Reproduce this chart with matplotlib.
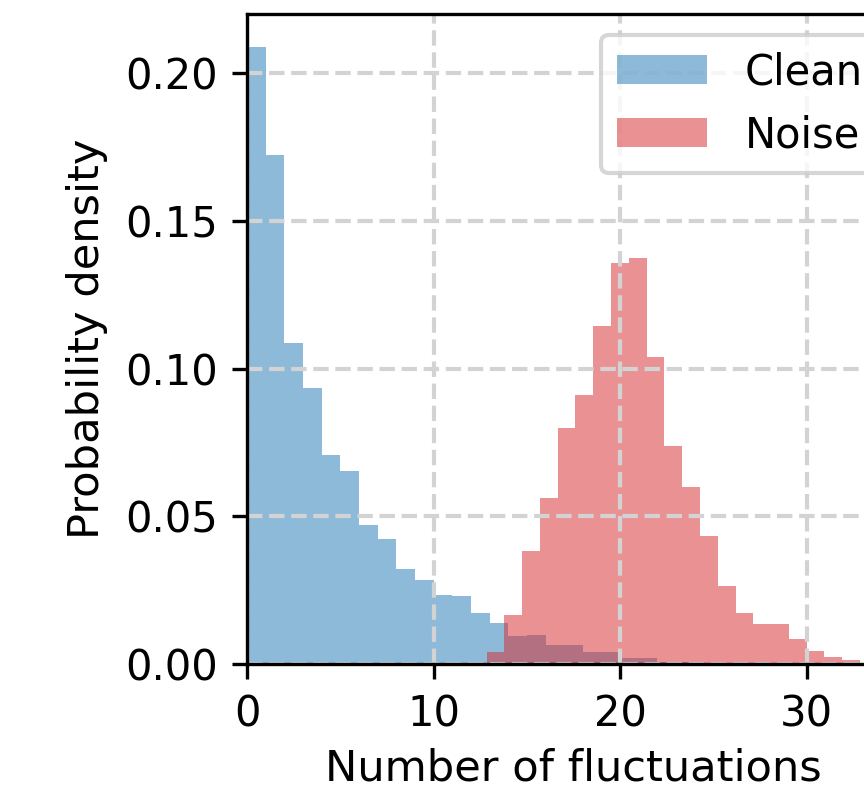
import matplotlib
matplotlib.use("Agg")
import matplotlib.pyplot as plt
import numpy as np

############################################################### histogram data

# clean signal: unit bins starting at 0
clean_lo = 0.0
clean_width = 1.0
clean_density = [0.2087, 0.1722, 0.1088, 0.0934, 0.0708, 0.0653, 0.0471, 0.0423,
                 0.0321, 0.0285, 0.0234, 0.0229, 0.0171, 0.0139, 0.0095, 0.0098,
                 0.0064, 0.0064, 0.0042, 0.0042, 0.0019, 0.0019, 0.0008, 0.0008]

# noisy signal: bins as numpy picked them from the data range
noise_lo = 12.84
noise_width = 0.953
noise_density = [0.0042, 0.0166, 0.0383, 0.0561, 0.0800, 0.0910, 0.1145, 0.1356,
                 0.1373, 0.1038, 0.0739, 0.0600, 0.0433, 0.0264, 0.0174, 0.0135,
                 0.0135, 0.0085, 0.0045, 0.0025, 0.0014]

LABELS = ['Clean', 'Noise']
XLABEL = 'Number of fluctuations'
YLABEL = 'Probability density'

def edges(lo, width, n):
    return lo + width * np.arange(n + 1)

################################################################# figure setup

plt.rcParams['font.size'] = 10

fig = plt.figure(figsize=(864 / 300, 788 / 300), dpi=300)
# the axes run past the right edge of the figure, as in the cropped original
ax = fig.add_axes([0.2859, 0.1574, 0.7558, 0.8249])

for lo, width, dens, color, label in [(clean_lo, clean_width, clean_density, 'tab:blue', LABELS[0]),
                                      (noise_lo, noise_width, noise_density, 'tab:red', LABELS[1])]:
    __bins = edges(lo, width, len(dens))
    __centers = 0.5 * (__bins[:-1] + __bins[1:])
    ax.hist(__centers, bins=__bins, weights=dens, color=color, alpha=0.5, label=label)

ax.set_xlim(0, 35)
ax.set_ylim(0, 0.22)
ax.set_xticks([0, 10, 20, 30])
ax.set_yticks([0.0, 0.05, 0.10, 0.15, 0.20])
ax.yaxis.set_major_formatter(matplotlib.ticker.FormatStrFormatter('%.2f'))

ax.grid(True, ls='--', lw=1.0, color='#d3d3d3')
ax.set_xlabel(XLABEL, fontsize=10.4, labelpad=3)
ax.set_ylabel(YLABEL, fontsize=10.4)
ax.legend(loc='upper right', handlelength=2.15, handletextpad=0.9)

fig.savefig('out.png', dpi=300)
